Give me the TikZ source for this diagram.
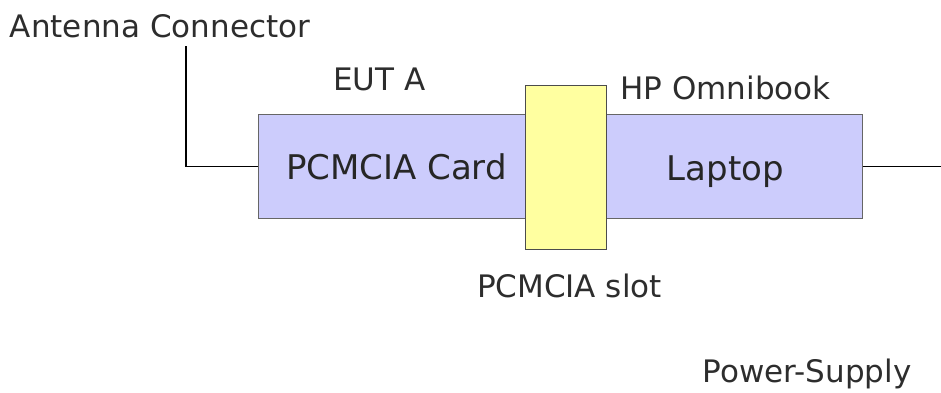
\documentclass[tikz,border=0pt]{standalone}
\usepackage{fontspec}
\setmainfont{DejaVu Sans}
\definecolor{cardblue}{RGB}{204,204,252}
\definecolor{slotyellow}{RGB}{255,255,160}
\definecolor{labelgray}{RGB}{45,45,45}
\begin{document}
\begin{tikzpicture}
   [x=1pt, y=-1pt,
    outer/.style={inner sep=0pt, anchor=base, text=labelgray, font=\fontsize{31}{36}\selectfont},
    inner/.style={inner sep=0pt, anchor=base, text=black!85, font=\fontsize{34}{40}\selectfont},
    wire/.style={line width=1.1pt, black}]
   \useasboundingbox (0,0) rectangle (941,392);

   \node[draw=black!60, line width=1pt, fill=cardblue, minimum width=604pt, minimum height=104pt, inner sep=0pt] (eut) at (560,166.5) {};
   \node[draw=black!70, line width=1pt, fill=slotyellow, minimum width=81pt, minimum height=164pt, inner sep=0pt] (slot) at (566,167) {};

   \node[inner] (card) at (396.5,179) {PCMCIA Card};
   \node[inner] (laptop) at (725.5,180) {Laptop};

   \node[outer] (antenna) at (160,37) {Antenna Connector};
   \node[outer] (euta) at (379.5,90) {EUT A};
   \node[outer] (omnibook) at (725.5,99) {HP Omnibook};
   \node[outer] (slotlabel) at (569.5,297) {PCMCIA slot};
   \node[outer] (supply) at (807,382) {Power-Supply};

   \coordinate (anttip) at (186,46);
   \coordinate (psutip) at (941,166.5);
   \draw[wire] (anttip) |- (eut.west);
   \draw[wire] (eut.east) -- (psutip);
\end{tikzpicture}
\end{document}
